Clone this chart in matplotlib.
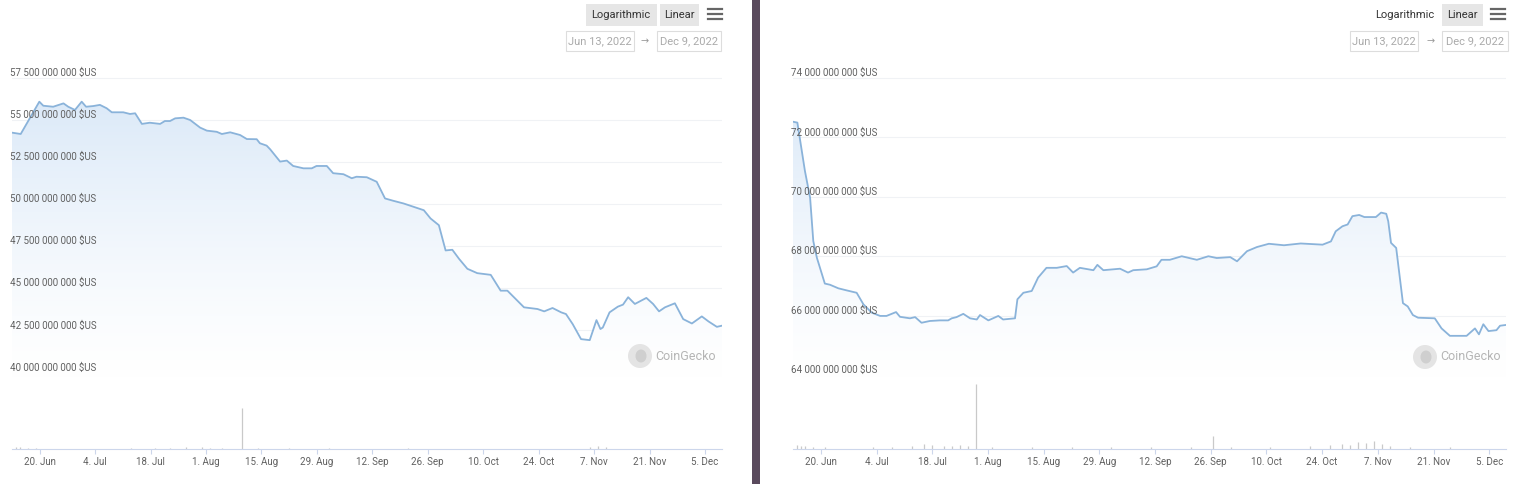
import numpy as np
import pandas as pd
import matplotlib
matplotlib.use("Agg")
import matplotlib.pyplot as plt
from matplotlib.patches import Rectangle, Ellipse, PathPatch

plt.rcParams['font.family'] = ['Roboto', 'DejaVu Sans']

W, H = 1536, 484
start = pd.Timestamp("2022-06-13")

# left chart: market cap, days since Jun 13 2022 / billions $US
left_days = [0, 2.2, 6.9, 7.9, 10.4, 13.0, 14.2, 15.9, 17.6, 18.7, 20.5, 22.2, 23.9, 25.2,
             28.1, 29.8, 31.1, 32.8, 34.8, 37.4, 38.6, 39.9, 41.2, 43.3, 45.0, 47.5, 49.2,
             51.7, 53.0, 55.1, 57.6, 59.3, 61.8, 62.6, 64.3, 65.2, 67.7, 69.4, 71.0, 73.6,
             75.7, 76.9, 79.5, 81.1, 83.7, 85.8, 87.0, 89.6, 92.1, 94.2, 96.3, 98.9, 104.0,
             105.7, 107.8, 109.5, 111.2, 112.9, 115.0, 117.5, 120.9, 123.4, 125.1, 129.3,
             132.7, 134.4, 136.5, 138.7, 139.9, 141.6, 143.7, 145.9, 147.6, 148.6, 149.2,
             150.9, 153.0, 154.3, 155.6, 157.3, 160.2, 161.9, 163.4, 164.9, 167.4, 169.5,
             171.7, 174.2, 175.9, 178.0, 179.3]
left_vals = [54.25, 54.17, 56.09, 55.85, 55.79, 55.99, 55.79, 55.6, 56.09, 55.79, 55.83, 55.9,
             55.7, 55.46, 55.46, 55.36, 55.4, 54.77, 54.84, 54.77, 54.94, 54.94, 55.1, 55.14,
             55.0, 54.55, 54.37, 54.3, 54.17, 54.27, 54.11, 53.87, 53.86, 53.62, 53.48, 53.26,
             52.53, 52.59, 52.27, 52.13, 52.13, 52.27, 52.27, 51.84, 51.78, 51.54, 51.63, 51.6,
             51.33, 50.34, 50.2, 50.04, 49.64, 49.15, 48.75, 47.25, 47.29, 46.75, 46.16, 45.9,
             45.8, 44.86, 44.86, 43.87, 43.77, 43.63, 43.83, 43.57, 43.47, 42.87, 41.98, 41.92,
             43.11, 42.58, 42.67, 43.57, 43.91, 44.03, 44.47, 44.07, 44.43, 44.07, 43.63, 43.87,
             44.11, 43.17, 42.91, 43.33, 43.03, 42.71, 42.78]
left_yticks = [40, 42.5, 45, 47.5, 50, 52.5, 55, 57.5]
left_vol_days = [1, 2, 4, 6, 30, 36, 40, 44, 48, 50, 53, 58, 62, 70, 80, 100, 146, 148, 150]
left_vol = [2, 2, 1, 1, 1, 1, 1, 2, 2, 1, 1, 41, 1, 1, 1, 1, 2, 3, 2]

# right chart
right_days = [0, 1.1, 3.0, 4.3, 5.1, 6.0, 8.0, 9.3, 11.4, 13.5, 16.0, 17.7, 19.8, 21.9, 23.5,
              25.9, 26.9, 29.4, 30.7, 32.3, 34.4, 36.9, 39.0, 39.9, 41.1, 42.8, 44.5, 46.2,
              47.0, 49.1, 51.6, 52.8, 55.8, 56.4, 57.9, 60.0, 61.6, 63.7, 66.3, 68.8, 70.4,
              72.1, 75.5, 76.5, 78.0, 82.2, 84.2, 85.5, 88.9, 91.4, 92.6, 94.7, 97.7, 101.5,
              104.4, 106.5, 109.9, 111.6, 114.1, 116.6, 119.6, 123.4, 127.6, 133.1, 135.2,
              136.4, 138.1, 139.4, 140.6, 142.3, 143.6, 146.5, 147.8, 149.1, 149.6, 150.3,
              151.6, 153.3, 154.5, 155.8, 157.1, 161.3, 163.0, 165.1, 167.2, 169.3, 171.4,
              172.4, 173.5, 174.8, 176.8, 177.7, 179.4]
right_vals = [72.53, 72.5, 70.87, 69.97, 68.51, 67.95, 67.08, 67.04, 66.92, 66.85, 66.77, 66.38,
              66.1, 65.99, 65.99, 66.12, 65.96, 65.91, 65.95, 65.76, 65.82, 65.84, 65.84, 65.91,
              65.95, 66.06, 65.91, 65.87, 66.02, 65.84, 65.99, 65.87, 65.91, 66.55, 66.77, 66.83,
              67.28, 67.61, 67.61, 67.67, 67.45, 67.61, 67.53, 67.71, 67.53, 67.58, 67.45, 67.53,
              67.56, 67.66, 67.88, 67.88, 68.0, 67.88, 68.0, 67.94, 67.97, 67.83, 68.17, 68.31,
              68.42, 68.37, 68.43, 68.39, 68.5, 68.84, 69.01, 69.07, 69.35, 69.39, 69.32, 69.32,
              69.47, 69.43, 69.18, 68.45, 68.28, 66.42, 66.31, 66.02, 65.93, 65.91, 65.57, 65.32,
              65.32, 65.32, 65.57, 65.37, 65.71, 65.48, 65.51, 65.66, 65.69]
right_yticks = [64, 66, 68, 70, 72, 74]
right_vol_days = [1, 2, 3, 5, 8, 20, 25, 30, 33, 35, 38, 40, 42, 44, 46, 50, 60, 70, 80, 90,
                  100, 105.5, 110, 120, 130, 135, 138, 140, 142, 144, 146, 148, 150, 155, 165]
right_vol = [4, 3, 3, 2, 2, 2, 2, 3, 5, 4, 3, 3, 4, 3, 65, 2, 2, 2, 2, 2,
             2, 13, 2, 2, 3, 4, 5, 4, 7, 6, 8, 5, 3, 2, 2]

tick_dates = ["2022-06-20", "2022-07-04", "2022-07-18", "2022-08-01", "2022-08-15",
              "2022-08-29", "2022-09-12", "2022-09-26", "2022-10-10", "2022-10-24",
              "2022-11-07", "2022-11-21", "2022-12-05"]
tick_labels = ["20. Jun", "4. Jul", "18. Jul", "1. Aug", "15. Aug", "29. Aug", "12. Sep",
               "26. Sep", "10. Oct", "24. Oct", "7. Nov", "21. Nov", "5. Dec"]
tick_days = [(pd.Timestamp(d) - start).days for d in tick_dates]

LINE = '#8ab3da'
GRAY_TXT = '#606060'


def box(x0, y0, x1, y1):
    return [x0 / W, 1 - y1 / H, (x1 - x0) / W, (y1 - y0) / H]


def fx(x):
    return x / W


def fy(y):
    return 1 - y / H


def fmt(v):
    return f"{int(round(v * 1e9)):,}".replace(",", " ") + " $US"


def panel(fig, xr, ylim, days, vals, yticks, vdays, vol, xend):
    x0, x1 = xr
    ax = fig.add_axes(box(x0, 65, x1, 378))
    ax.set_axis_off()
    for t in yticks:
        ax.axhline(t, color='#f0f2f5', lw=0.8, zorder=0)
        ax.annotate(fmt(t), xy=(0, t), xycoords=('axes fraction', 'data'),
                    xytext=(-2, 5), textcoords='offset pixels', ha='left', va='center',
                    fontsize=7, color=GRAY_TXT, zorder=5)
    poly = ax.fill_between(days, vals, ylim[0], color='none', lw=0)
    grad = np.ones((256, 1, 4))
    top = np.array([214, 230, 247]) / 255
    t = np.linspace(0, 1, 256)[:, None]
    grad[:, 0, :3] = 1 - (1 - top) * t ** 1.3
    im = ax.imshow(grad, extent=[0, xend, ylim[0], ylim[1]], aspect='auto',
                   origin='lower', zorder=1)
    clip = PathPatch(poly.get_paths()[0], transform=ax.transData, fc='none', ec='none')
    ax.add_patch(clip)
    im.set_clip_path(clip)
    ax.plot(days, vals, color=LINE, lw=1.3, zorder=3, solid_joinstyle='round')
    ax.set_xlim(0, xend)
    ax.set_ylim(*ylim)

    vax = fig.add_axes(box(x0, 382, x1, 449))
    vax.vlines(vdays, 0, vol, color='#c9c9c9', lw=0.9)
    vax.set_xlim(0, xend)
    vax.set_ylim(0, 67)
    for s in ['top', 'right', 'left']:
        vax.spines[s].set_visible(False)
    vax.spines['bottom'].set_color('#ccd6eb')
    vax.spines['bottom'].set_linewidth(0.8)
    vax.set_yticks([])
    vax.set_xticks(tick_days)
    vax.set_xticklabels(tick_labels)
    vax.tick_params(axis='x', length=3.6, width=0.8, color='#ccd6eb', pad=2,
                    labelsize=7, labelcolor=GRAY_TXT)
    vax.patch.set_alpha(0)
    return ax


def ui(fig, log_bg, lin_bg, log_c, lin_c, date_l, arrow_x, date_r):
    for (a, b), bg, lab in [(log_c, log_bg, 'Logarithmic'), (lin_c, lin_bg, 'Linear')]:
        if bg is not None:
            fig.add_artist(Rectangle((fx(bg[0]), fy(26)), fx(bg[1] - bg[0]), 22 / H,
                                     transform=fig.transFigure, fc='#e6e6e6', ec='none'))
        fig.text(fx(a), fy(b), lab, ha='center', va='center', fontsize=8, color='#333333')
    hx = lin_c[0] + 36
    for yy in (9, 14, 19):
        fig.add_artist(plt.Line2D([fx(hx - 7), fx(hx + 7)], [fy(yy), fy(yy)],
                                  transform=fig.transFigure, color='#666666', lw=1.6))
    for (l, r), lab in [(date_l, 'Jun 13, 2022'), (date_r, 'Dec 9, 2022')]:
        fig.add_artist(Rectangle((fx(l), fy(51)), fx(r - l), 20 / H,
                                 transform=fig.transFigure, fc='white', ec='#dddddd', lw=0.8))
        fig.text(fx((l + r) / 2), fy(41), lab, ha='center', va='center',
                 fontsize=8, color='#aaaaaa')
    fig.text(fx(arrow_x), fy(41), '\u2192', ha='center', va='center', fontsize=7,
             color='#999999', family='DejaVu Sans')


def gecko(fig, cx, cy):
    fig.add_artist(Ellipse((fx(cx), fy(cy)), 24 / W, 24 / H, transform=fig.transFigure,
                           fc='#e4e4e4', ec='none'))
    fig.add_artist(Ellipse((fx(cx + 1), fy(cy)), 11 / W, 13 / H, transform=fig.transFigure,
                           fc='#cfcfcf', ec='none'))
    fig.text(fx(cx + 15), fy(cy), 'CoinGecko', ha='left', va='center', fontsize=9,
             color='#b5b5b5')


fig = plt.figure(figsize=(W / 100, H / 100), dpi=100)

panel(fig, (12, 722), (39.67, 58.27), left_days, left_vals, left_yticks,
      left_vol_days, left_vol, 179.3)
panel(fig, (793, 1506), (63.90, 74.44), right_days, right_vals, right_yticks,
      right_vol_days, right_vol, 179.2)

ui(fig, (586, 657), (660, 699), (621, 15), (679, 15), (566, 634), 645, (657, 721))
ui(fig, None, (1442, 1483), (1405, 15), (1462, 15), (1350, 1418), 1431, (1442, 1508))
gecko(fig, 640, 356)
gecko(fig, 1425, 357)

# divider between the two screenshots
fig.add_artist(Rectangle((fx(752), 0), fx(8), 1, transform=fig.transFigure,
                         fc='#5a4a5d', ec='none'))

fig.savefig('out.png', dpi=100)
